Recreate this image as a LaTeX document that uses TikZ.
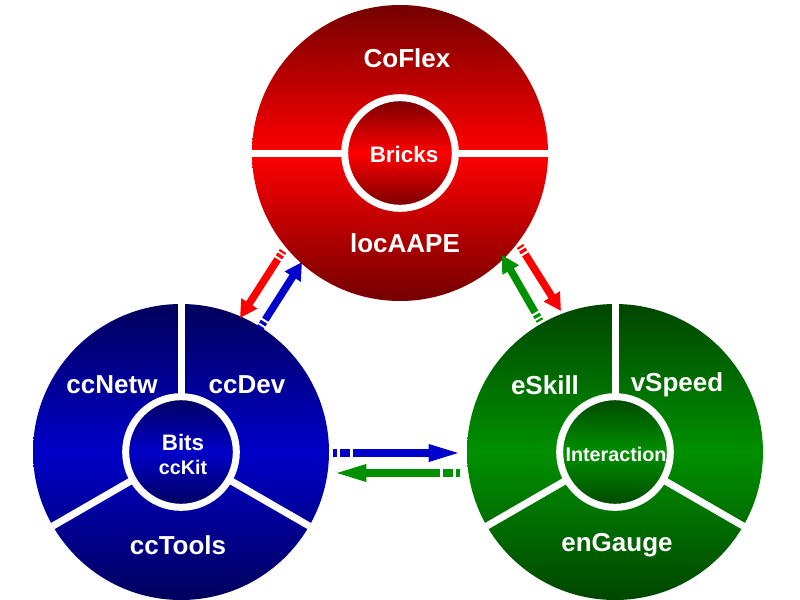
\documentclass[tikz,border=0pt]{standalone}
\usepackage{fontspec}
\setmainfont{Liberation Sans}
\usetikzlibrary{arrows.meta}
\definecolor{rdark}{HTML}{740000}
\definecolor{rmid}{HTML}{FF0000}
\definecolor{bdark}{HTML}{00005C}
\definecolor{bmid}{HTML}{0000C8}
\definecolor{gdark}{HTML}{004600}
\definecolor{gmid}{HTML}{009000}
\definecolor{arred}{HTML}{FF0000}
\definecolor{arblue}{HTML}{0000CC}
\definecolor{argreen}{HTML}{009000}
\tikzset{
  bigdisc/.style={circle, inner sep=0pt, minimum size=222pt, top color=#1dark, bottom color=#1dark, middle color=#1mid},
  hubdisc/.style={circle, inner sep=0pt, minimum size=83pt, draw=white, line width=5.25pt, top color=#1dark, bottom color=#1dark, middle color=#1mid},
  sep/.style={white, line width=5.25pt},
  biglbl/.style={text=white, font=\fontsize{19.5}{22}\selectfont\bfseries, inner sep=0pt},
  midlbl/.style={text=white, font=\fontsize{16.8}{19}\selectfont\bfseries, inner sep=0pt},
  smalllbl/.style={text=white, font=\fontsize{14.8}{17}\selectfont\bfseries, inner sep=0pt},
  diagflow/.style={draw=#1, line width=5.6pt, -{Triangle[length=13pt, width=13.5pt]},
     dash pattern=on 1.6pt off 1.6pt on 2.4pt off 1.8pt on 400pt},
  horflow/.style={draw=#1, line width=5.6pt, -{Triangle[length=25pt, width=11.5pt]},
     dash pattern=on 3pt off 2.6pt on 6.8pt off 2.4pt on 400pt}
}
\begin{document}
\begin{tikzpicture}[x=0.75pt, y=-0.75pt]
\useasboundingbox (0,0) rectangle (800,600);
% red disc
\node[bigdisc=r] (red) at (400,153) {};
\draw[sep] (red.180) -- (red.0);
\node[hubdisc=r] (redhub) at (400,153) {};
\node[biglbl] (coflex) at (407,58) {CoFlex};
\node[biglbl] (locaape) at (405,243) {locAAPE};
\node[midlbl] (bricks) at (404,154) {Bricks};
% blue disc
\node[bigdisc=b] (blue) at (181,452) {};
\draw[sep] (blue.center) -- (blue.90);
\draw[sep] (blue.center) -- (blue.210);
\draw[sep] (blue.center) -- (blue.330);
\node[hubdisc=b] (bluehub) at (181,452) {};
\node[biglbl] (ccnetw) at (112,385) {ccNetw};
\node[biglbl] (ccdev) at (247,385) {ccDev};
\node[biglbl] (cctools) at (178,545) {ccTools};
\node[midlbl] (bits) at (183,442) {Bits};
\node[smalllbl] (cckit) at (183,467) {ccKit};
% green disc
\node[bigdisc=g] (green) at (615,452) {};
\draw[sep] (green.center) -- (green.90);
\draw[sep] (green.center) -- (green.210);
\draw[sep] (green.center) -- (green.330);
\node[hubdisc=g] (greenhub) at (615,452) {};
\node[biglbl] (eskill) at (545,385) {eSkill};
\node[biglbl] (vspeed) at (677,385) {vSpeed};
\node[biglbl] (engauge) at (617,545) {enGauge};
\node[smalllbl] (interaction) at (616,454) {Interaction};
% arrow end points
\coordinate (rbS) at (283,251);
\coordinate (rbE) at (240,318);
\coordinate (brS) at (260,328);
\coordinate (brE) at (302,262);
\coordinate (grS) at (540,321);
\coordinate (grE) at (502,255);
\coordinate (rgS) at (520,246);
\coordinate (rgE) at (561,311);
\coordinate (bgS) at (333,453);
\coordinate (bgE) at (462,453);
\coordinate (gbS) at (460,473);
\coordinate (gbE) at (333,473);
% arrows
\draw[diagflow=arred] (rbS) -- (rbE);
\draw[diagflow=arblue] (brS) -- (brE);
\draw[diagflow=argreen] (grS) -- (grE);
\draw[diagflow=arred] (rgS) -- (rgE);
\draw[horflow=arblue] (bgS) -- (bgE);
\draw[horflow=argreen] (gbS) -- (gbE);
\end{tikzpicture}
\end{document}
